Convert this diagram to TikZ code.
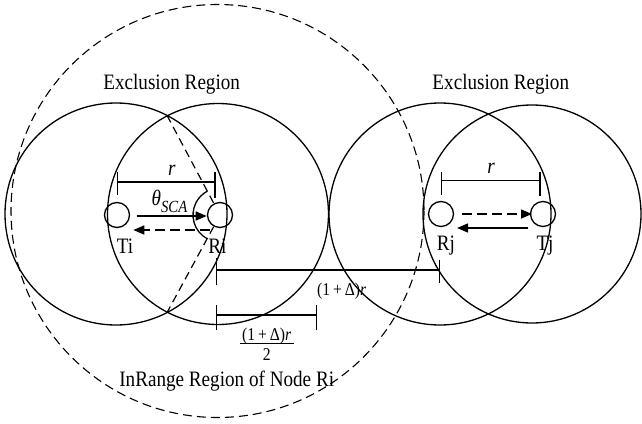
\documentclass[tikz,border=0pt]{standalone}
\usepackage{fontspec}
\setmainfont{Liberation Serif}[FakeStretch=0.87]
\usetikzlibrary{arrows.meta,calc}
\begin{document}
\begin{tikzpicture}[x=1pt,y=-1pt,
  bigc/.style={draw, line width=1.3pt},
  rangec/.style={draw, line width=1.1pt, dash pattern=on 9pt off 5pt},
  smallc/.style={circle, draw, line width=1.3pt, minimum size=25pt, inner sep=0pt},
  lbl/.style={font=\fontsize{22}{24}\selectfont, inner sep=0pt, anchor=base},
  smlbl/.style={font=\fontsize{18}{20}\selectfont, inner sep=0pt, anchor=base},
  dimline/.style={line width=1.3pt},
  tri/.style={line width=1.2pt, dash pattern=on 8pt off 5pt},
  angarc/.style={line width=1.3pt},
  arr/.style={line width=1.5pt, -{Triangle[length=11pt,width=9pt]}},
  dasharr/.style={arr, dash pattern=on 10pt off 5pt}]
\useasboundingbox (0,0) rectangle (642,423);

% large regions
\draw[rangec] (217.5,211) circle[radius=206.5];
\draw[bigc] (116,214) circle[radius=111];
\draw[bigc] (218,214) circle[radius=110.5];
\draw[bigc] (440,214) circle[radius=111];
\draw[bigc] (532,214) circle[radius=109];

% nodes
\node[smallc] (Ti) at (117,215) {};
\node[smallc] (Ri) at (220,215) {};
\node[smallc] (Rj) at (441,214) {};
\node[smallc] (Tj) at (543,214) {};

% node labels
\node[lbl] (TiL) at (125,253) {Ti};
\node[lbl] (RiL) at (217.5,253) {Ri};
\node[lbl] (RjL) at (446,250) {Rj};
\node[lbl] (TjL) at (545,250) {Tj};

% region labels
\node[lbl] (ex1) at (171.7,89.5) {Exclusion Region};
\node[lbl] (ex2) at (500.8,89.5) {Exclusion Region};
\node[lbl] (inr) at (226.7,386.7) {InRange Region of Node Ri};

% SCA angle construction
\coordinate (ptop) at (167,115.4);
\coordinate (pbot) at (167,312.6);
\draw[tri] (ptop) -- (Ri);
\draw[tri] (Ri) -- (pbot);
\draw[angarc] ($(Ri.center)+(118:27)$) arc[start angle=118, end angle=242, radius=27];
\node[lbl, anchor=base west] (theta) at (151.5,205) {\textit{θ}\raisebox{-7pt}{\fontsize{17}{18}\selectfont\textit{SCA}}};

% arrows
\coordinate (a1s) at (136.7,216);
\coordinate (a1e) at (206.7,216);
\draw[arr] (a1s) -- (a1e);
\coordinate (a2s) at (210,230);
\coordinate (a2e) at (133.3,230);
\draw[dasharr] (a2s) -- (a2e);
\coordinate (a3s) at (462,214);
\coordinate (a3e) at (532,214);
\draw[dasharr] (a3s) -- (a3e);
\coordinate (a4s) at (528,228);
\coordinate (a4e) at (457,228);
\draw[arr] (a4s) -- (a4e);

% r bar left
\coordinate (rl1) at (117.3,182);
\coordinate (rl2) at (215,182);
\draw[dimline] (rl1) -- (rl2);
\draw[dimline] (rl1) ++(0,-10.3) -- ++(0,23.3);
\draw[dimline] (rl2) ++(0,-10.3) -- ++(0,26.6);
\node[lbl] (rL) at (172,175) {\textit{r}};

% r bar right
\coordinate (rr1) at (441.7,180.7);
\coordinate (rr2) at (540,180.7);
\draw[dimline] (rr1) -- (rr2);
\draw[dimline] (rr1) ++(0,-9) -- ++(0,23.3);
\draw[dimline] (rr2) ++(0,-9) -- ++(0,24.3);
\node[lbl] (rR) at (491,173) {\textit{r}};

% (1+Delta) r bar
\coordinate (d1) at (216.7,270);
\coordinate (d2) at (439.3,270);
\draw[dimline] (d1) -- (d2);
\draw[dimline] (d1) ++(0,-12) -- ++(0,27);
\draw[dimline] (d2) ++(0,-10) -- ++(0,23);
\node[smlbl] (dL) at (341.7,295) {(1\,+\,Δ)\textit{r}};

% half bar
\coordinate (h1) at (216.7,315);
\coordinate (h2) at (316.7,315);
\draw[dimline] (h1) -- (h2);
\draw[dimline] (h1) ++(0,-10) -- ++(0,25);
\draw[dimline] (h2) ++(0,-10) -- ++(0,25);
\node[smlbl] (fnum) at (266.7,340) {(1\,+\,Δ)\textit{r}};
\node[smlbl] (fden) at (266.7,360) {2};
\coordinate (fb1) at (239.5,343.3);
\coordinate (fb2) at (294,343.3);
\draw[line width=1pt] (fb1) -- (fb2);
\end{tikzpicture}
\end{document}
